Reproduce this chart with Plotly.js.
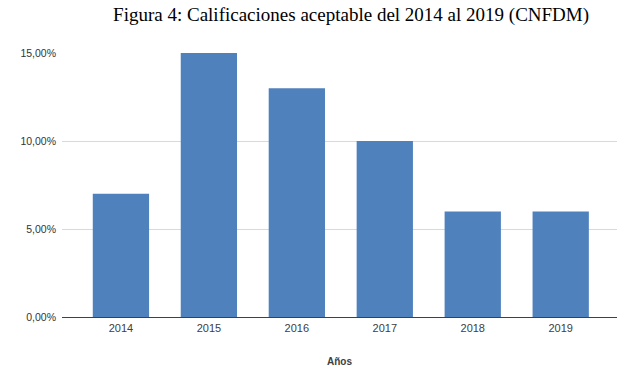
<!DOCTYPE html>
<html><head><meta charset="utf-8">
<script src="https://cdn.plot.ly/plotly-3.0.1.min.js"></script>
<style>html,body{margin:0;padding:0;background:#fff;}#c{width:617px;height:367px;}</style>
</head><body><div id="c"></div>
<script>
const years = ["2014","2015","2016","2017","2018","2019"];
const values = [7, 15, 13, 10, 6, 6];
const yTicks = [0, 5, 10, 15];
const yTickText = yTicks.map(v => v.toFixed(2).replace(".", ",") + "%");

Plotly.newPlot("c", [{
  type: "bar", x: years, y: values,
  marker: {color: "#4f81bd"},
  hoverinfo: "none"
}], {
  width: 617, height: 367,
  margin: {l: 62, r: 0, t: 53, b: 50},
  paper_bgcolor: "#fff", plot_bgcolor: "#fff",
  bargap: 0.36,
  title: {text: "Figura 4: Calificaciones aceptable del 2014 al 2019 (CNFDM)",
    font: {family: "Liberation Serif, Times New Roman, serif", size: 19, color: "#000"},
    x: 0.569, xanchor: "center", y: 0.98, yanchor: "top"},
  xaxis: {type: "category", range: [-0.67, 5.64], showgrid: false,
    showline: false, ticks: "", ticklabelstandoff: 3,
    tickfont: {family: "Liberation Sans, Arial, sans-serif", size: 11, color: "#404040"},
    title: {text: "<b>Años</b>", standoff: 26,
      font: {family: "Liberation Sans, Arial, sans-serif", size: 10, color: "#404040"}}},
  yaxis: {range: [0, 15], tickmode: "array", tickvals: yTicks, ticktext: yTickText,
    gridcolor: "#d9d9d9", gridwidth: 1, zeroline: true, zerolinecolor: "#404040", zerolinewidth: 1,
    ticks: "", ticklen: 0, ticklabelstandoff: 5,
    tickfont: {family: "Liberation Sans, Arial, sans-serif", size: 10.5, color: "#333333"}},
  showlegend: false
}, {displayModeBar: false, staticPlot: true});
</script></body></html>
